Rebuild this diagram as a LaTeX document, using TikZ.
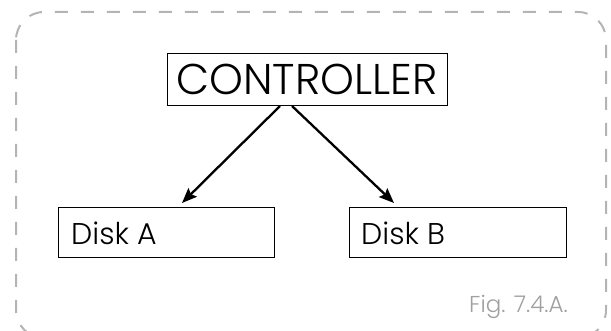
\documentclass[tikz,border=0pt]{standalone}
\usepackage{fontspec}
\setmainfont{Poppins}[UprightFont={* Light}]
\usetikzlibrary{arrows.meta}
\definecolor{framegray}{HTML}{B4B4B4}
\definecolor{labelgray}{HTML}{A0A0A0}
\tikzset{
  box/.style={draw=black, line width=1.3pt, inner sep=0pt, anchor=north west},
  label text/.style={anchor=base west, inner sep=0pt},
  link/.style={line width=2.3pt, -{Stealth[length=15pt,width=12pt,inset=2.5pt]}},
}
\begin{document}
\begin{tikzpicture}[x=1pt,y=-1pt]
\useasboundingbox (0,0) rectangle (611,331);
% dashed outer frame
\draw[framegray, line width=2pt, dash pattern=on 13pt off 13pt, rounded corners=28pt]
  (16,12) rectangle (606,338);
% controller and disks
\node[box, minimum width=280pt, minimum height=52pt] (ctrl) at (167,53) {};
\node[anchor=base, inner sep=0pt, font=\fontsize{43}{43}\selectfont] (ctrltext) at (307,95) {CONTROLLER};
\node[box, minimum width=216pt, minimum height=50pt] (diskA) at (58,207) {};
\node[label text, font=\fontsize{30}{30}\selectfont] (diskAtext) at (71,245) {Disk A};
\node[box, minimum width=217pt, minimum height=50pt] (diskB) at (349,207) {};
\node[label text, font=\fontsize{30}{30}\selectfont] (diskBtext) at (361,245) {Disk B};
% connectors
\coordinate (a1) at (280,106);
\coordinate (a2) at (292,106);
\coordinate (b1) at (182,203);
\coordinate (b2) at (394,203);
\draw[link] (a1) -- (b1);
\draw[link] (a2) -- (b2);
% caption
\node[label text, text=labelgray, font=\fontsize{23}{23}\selectfont] (fig) at (469,313) {Fig. 7.4.A.};
\end{tikzpicture}
\end{document}
